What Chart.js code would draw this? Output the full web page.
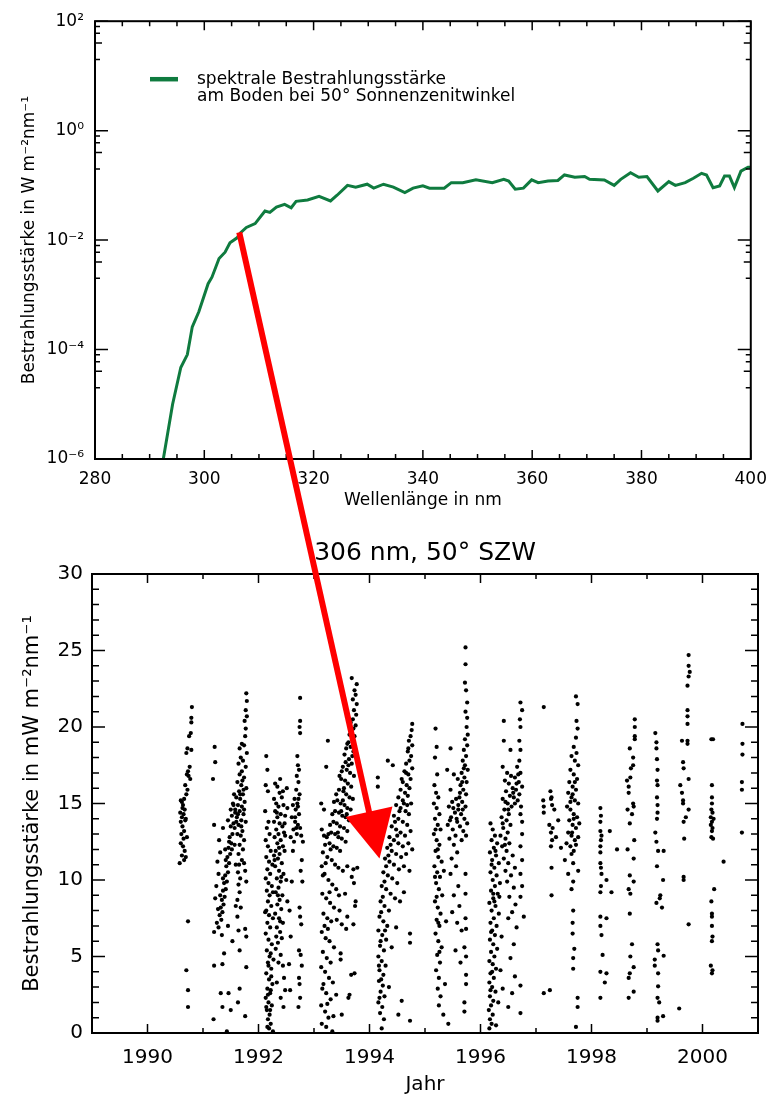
<!DOCTYPE html>
<html>
<head>
<meta charset="utf-8">
<script src="https://cdn.jsdelivr.net/npm/chart.js@4.4.1/dist/chart.umd.min.js"></script>
<style>
    html, body { margin: 0; padding: 0; background: #fff; overflow: hidden; }
    #wrap { position: relative; width: 777px; height: 1094px; }
    canvas { position: absolute; left: 0; }
    #chart-spectrum { top: 0; }
    #chart-series { top: 520px; }
    #arrow { top: 0; pointer-events: none; }
</style>
</head>
<body>
<div id="wrap">
    <canvas id="chart-spectrum" width="777" height="520"></canvas>
    <canvas id="chart-series" width="777" height="580"></canvas>
    <canvas id="arrow" width="777" height="1094"></canvas>
</div>
<script>
const FONT = "'DejaVu Sans', sans-serif";
const GREEN = "#0f7b3f";
const RED = "#ff0000";

// top panel: spectrum at 50 deg solar zenith angle
const wavelengths = [292.0, 292.5, 294.2, 295.7, 296.9, 297.8, 299.0, 300.7, 301.4, 302.7, 303.8, 304.7, 306.0, 306.6, 307.7, 309.3, 311.1, 312.0, 313.2, 314.7, 315.9, 316.8, 318.9, 321.0, 323.1, 324.3, 326.2, 327.7, 329.8, 331.0, 332.8, 334.6, 336.7, 338.2, 340.0, 341.2, 343.9, 345.2, 347.3, 349.7, 352.7, 354.8, 355.7, 356.9, 358.4, 359.9, 361.1, 362.9, 364.7, 365.9, 367.8, 369.6, 370.5, 373.2, 375.0, 376.2, 378.0, 379.5, 381.0, 383.0, 385.0, 386.2, 388.0, 389.5, 391.0, 391.9, 393.1, 394.3, 395.2, 396.1, 397.0, 398.2, 399.5, 400.0];
const irradiance = [5e-7, 1.0e-6, 1.0e-5, 4.7e-5, 8.1e-5, 2.6e-4, 4.9e-4, 1.6e-3, 2.1e-3, 4.6e-3, 6.0e-3, 8.9e-3, 1.1e-2, 1.35e-2, 1.7e-2, 2.0e-2, 3.4e-2, 3.2e-2, 4.0e-2, 4.5e-2, 3.9e-2, 5.1e-2, 5.4e-2, 6.3e-2, 5.2e-2, 6.6e-2, 0.100, 0.093, 0.105, 0.089, 0.105, 0.093, 0.074, 0.089, 0.098, 0.089, 0.089, 0.112, 0.112, 0.126, 0.112, 0.129, 0.120, 0.085, 0.089, 0.126, 0.112, 0.120, 0.123, 0.155, 0.141, 0.145, 0.129, 0.126, 0.100, 0.129, 0.170, 0.141, 0.145, 0.079, 0.117, 0.100, 0.112, 0.135, 0.166, 0.155, 0.091, 0.098, 0.148, 0.148, 0.091, 0.182, 0.214, 0.214];
const spectrumXTicks = [280, 300, 320, 340, 360, 380, 400];
const spectrumYTicks = [1e-6, 1e-4, 1e-2, 1, 1e2];
const spectrumYLabels = ["10⁻⁶", "10⁻⁴", "10⁻²", "10⁰", "10²"];
const legendLines = ["spektrale Bestrahlungsstärke", "am Boden bei 50° Sonnenzenitwinkel"];

// bottom panel: 306 nm irradiance, [year, mW m-2 nm-1]
const season1990 = [[1990.80,21.3],[1990.79,20.6],[1990.79,20.3],[1990.78,19.6],[1990.75,19.4],[1990.72,18.6],[1990.79,18.5],[1990.70,18.3],[1990.76,17.4],[1990.73,17.1],[1990.71,16.9],[1990.77,16.6],[1990.74,16.8],[1990.68,16.2],[1990.72,15.9],[1990.70,15.6],[1990.66,15.3],[1990.62,15.1],[1990.64,14.9],[1990.60,15.2],[1990.67,14.6],[1990.65,14.3],[1990.62,14.1],[1990.68,13.9],[1990.60,13.8],[1990.63,13.5],[1990.66,13.2],[1990.61,13.0],[1990.65,12.7],[1990.60,12.4],[1990.64,12.2],[1990.67,11.9],[1990.62,11.6],[1990.69,11.5],[1990.58,11.1],[1990.66,11.3],[1990.63,14.7],[1990.69,14.0],[1990.59,14.4],[1990.71,12.8],[1990.73,7.3],[1990.70,4.1],[1990.73,2.8],[1990.73,1.7]];
const season1991 = [[1991.78,22.2],[1991.79,21.7],[1991.77,21.1],[1991.79,20.7],[1991.75,20.4],[1991.77,19.9],[1991.76,19.4],[1991.70,18.9],[1991.66,18.6],[1991.74,18.8],[1991.79,18.3],[1991.68,18.0],[1991.72,17.8],[1991.64,17.6],[1991.77,17.4],[1991.70,17.1],[1991.66,16.9],[1991.74,16.7],[1991.62,16.4],[1991.69,16.2],[1991.78,16.0],[1991.65,15.8],[1991.72,15.6],[1991.60,15.4],[1991.67,15.3],[1991.75,15.1],[1991.63,14.9],[1991.70,14.8],[1991.58,14.6],[1991.66,14.5],[1991.73,14.3],[1991.61,14.1],[1991.69,13.9],[1991.77,13.8],[1991.64,13.6],[1991.57,13.4],[1991.71,13.2],[1991.62,13.0],[1991.68,12.9],[1991.74,12.6],[1991.66,12.3],[1991.72,12.0],[1991.64,11.7],[1991.70,11.3],
    [1991.65,11.0],[1991.63,10.5],[1991.67,10.1],[1991.64,9.7],[1991.66,9.2],[1991.62,8.7],[1991.68,8.2],[1991.76,10.6],[1991.78,9.9],[1991.74,11.1],
    [1991.56,15.6],[1991.54,15.0],[1991.58,14.4],[1991.52,14.2],[1991.55,13.7],[1991.50,13.5],[1991.53,13.0],[1991.48,12.8],[1991.51,12.4],[1991.46,12.1],[1991.49,11.7],[1991.44,11.5],[1991.47,11.1],[1991.42,10.9],[1991.45,10.5],[1991.40,10.3],[1991.43,9.9],[1991.38,9.8],[1991.41,9.4],[1991.36,9.3],[1991.39,8.9],[1991.34,8.7],[1991.37,8.4],[1991.32,8.2],[1991.35,7.9],[1991.30,7.7],[1991.33,7.4],[1991.28,10.4],[1991.26,11.2],[1991.24,9.6],[1991.22,8.8],[1991.31,11.8],[1991.29,12.6],[1991.36,13.4],[1991.40,12.0],[1991.45,13.9],[1991.50,14.6],[1991.57,12.3],[1991.59,11.0],
    [1991.71,16.5],[1991.67,15.6],[1991.74,14.6],[1991.63,14.3],[1991.69,13.5],[1991.55,14.9],[1991.47,12.5],[1991.41,11.3],[1991.36,10.1],[1991.31,9.0],[1991.27,8.1],[1991.60,13.8],[1991.73,15.9],[1991.52,12.0],
    [1991.21,18.7],[1991.22,17.7],[1991.18,16.6],[1991.20,13.6],[1991.25,7.2],[1991.28,6.9],[1991.34,6.4],[1991.20,6.6],[1991.38,5.2],[1991.20,4.4],[1991.35,4.5],[1991.32,2.6],[1991.46,2.6],[1991.35,1.7],[1991.50,1.5],[1991.19,0.9],[1991.43,0.1],[1991.66,5.4],[1991.64,6.7],[1991.76,6.8],[1991.78,6.3],[1991.59,8.3],[1991.62,7.6],[1991.66,2.9],[1991.63,2.0],[1991.76,1.1],[1991.78,4.3],[1991.53,6.0],[1991.45,7.0]];
const season1992 = [[1992.14,18.1],[1992.16,17.2],[1992.13,16.2],[1992.17,15.8],[1992.12,14.5],[1992.18,13.8],[1992.15,13.4],[1992.20,13.0],[1992.13,12.6],[1992.17,12.2],[1992.22,11.9],[1992.14,11.5],[1992.19,11.2],[1992.25,11.0],[1992.16,10.7],[1992.21,10.4],[1992.13,10.1],[1992.18,9.8],[1992.24,9.6],[1992.15,9.3],[1992.20,9.0],[1992.17,8.6],[1992.23,8.3],[1992.14,8.0],[1992.19,7.7],[1992.26,7.5],[1992.16,7.2],[1992.21,6.9],[1992.13,6.5],[1992.18,6.1],[1992.24,5.8],[1992.15,5.4],[1992.20,5.0],[1992.17,4.6],[1992.23,4.2],[1992.14,3.9],[1992.19,3.5],[1992.25,3.2],[1992.16,2.9],[1992.21,2.6],[1992.13,2.3],[1992.18,2.0],[1992.24,1.8],[1992.15,1.5],[1992.20,1.2],[1992.17,0.9],[1992.22,0.6],[1992.19,0.3],[1992.26,0.1],[1992.14,1.7],[1992.22,2.8],[1992.27,4.8],[1992.12,7.9],[1992.26,9.2],
    [1992.30,16.3],[1992.34,16.1],[1992.38,15.7],[1992.28,15.3],[1992.42,15.4],[1992.32,15.0],[1992.36,14.8],[1992.45,14.9],[1992.30,14.5],[1992.40,14.3],[1992.34,14.1],[1992.48,14.2],[1992.28,13.8],[1992.38,13.7],[1992.43,13.5],[1992.32,13.3],[1992.36,13.0],[1992.46,13.1],[1992.29,12.8],[1992.40,12.6],[1992.34,12.4],[1992.44,12.2],[1992.31,11.9],[1992.38,11.7],[1992.35,11.4],[1992.42,11.1],[1992.30,10.9],[1992.37,10.6],[1992.45,10.4],[1992.33,10.1],[1992.40,9.9],[1992.36,9.5],[1992.31,9.2],[1992.43,9.0],[1992.38,8.7],[1992.34,8.4],[1992.41,8.1],[1992.30,7.8],[1992.37,7.5],[1992.44,7.2],[1992.33,6.9],[1992.39,6.6],[1992.42,6.2],[1992.35,5.9],[1992.31,5.5],[1992.40,5.1],[1992.44,4.4],[1992.36,4.6],[1992.46,3.6],[1992.33,3.3],[1992.48,2.8],[1992.40,2.3],[1992.45,1.7],[1992.52,8.6],[1992.50,10.0],[1992.48,12.9],[1992.52,14.7],[1992.28,11.6],[1992.47,11.9],[1992.51,16.0],
    [1992.39,16.6],[1992.44,15.8],[1992.33,14.4],[1992.47,13.7],[1992.37,12.1],[1992.29,11.3],[1992.41,10.2],[1992.35,9.0],[1992.39,7.3],[1992.32,6.3],[1992.22,5.2],[1992.18,4.4],[1992.23,3.7],[1992.17,2.5],[1992.21,1.5],[1992.16,0.4],
    [1992.75,21.9],[1992.75,20.4],[1992.74,20.0],[1992.75,19.6],[1992.70,18.1],[1992.71,17.5],[1992.73,17.2],[1992.69,16.8],[1992.72,16.4],[1992.68,15.9],[1992.74,15.6],[1992.65,15.3],[1992.70,15.0],[1992.62,14.9],[1992.67,14.6],[1992.73,14.3],[1992.60,14.1],[1992.66,13.8],[1992.71,13.6],[1992.63,13.3],[1992.69,13.0],[1992.58,12.8],[1992.64,12.5],[1992.75,13.4],[1992.77,12.9],[1992.80,12.5],[1992.78,11.3],[1992.76,10.6],[1992.79,9.9],[1992.74,8.2],[1992.75,7.6],[1992.77,7.1],[1992.73,5.4],[1992.76,5.1],[1992.78,4.4],[1992.73,3.6],[1992.74,3.2],[1992.75,2.3],[1992.72,1.7],[1992.62,11.9],[1992.60,9.9],[1992.56,8.0],[1992.58,6.3],[1992.55,4.5],[1992.57,2.8],[1992.71,14.8],[1992.66,14.1],[1992.72,15.3],[1992.68,13.4]];
const season1993 = [[1993.68,23.2],[1993.77,22.8],[1993.73,22.4],[1993.75,22.1],[1993.70,21.8],[1993.77,21.5],[1993.72,21.1],[1993.76,20.8],[1993.70,20.5],[1993.75,20.1],[1993.68,19.7],[1993.73,19.4],[1993.25,19.1],[1993.22,17.4],[1993.62,19.0],[1993.66,18.7],[1993.58,18.6],[1993.71,18.4],[1993.55,18.2],[1993.63,17.9],[1993.68,17.6],[1993.52,17.4],[1993.59,17.2],[1993.65,17.0],[1993.72,16.8],[1993.49,16.6],[1993.56,16.5],[1993.61,16.3],[1993.67,16.1],[1993.45,15.9],[1993.53,15.8],[1993.58,15.6],[1993.64,15.4],[1993.70,15.3],[1993.42,15.2],[1993.48,15.0],[1993.55,14.9],[1993.60,14.7],[1993.66,14.6],[1993.38,14.5],[1993.45,14.4],[1993.51,14.2],[1993.57,14.1],[1993.63,13.9],[1993.35,13.8],[1993.41,13.7],[1993.47,13.5],[1993.54,13.4],[1993.60,13.2],[1993.31,13.1],[1993.38,13.0],[1993.44,12.8],[1993.50,12.7],[1993.57,12.5],[1993.28,12.4],[1993.35,12.2],[1993.41,12.1],[1993.47,11.9],[1993.20,12.3],[1993.16,11.8],[1993.14,13.3],[1993.18,14.6],[1993.13,15.0],[1993.24,11.5],[1993.32,11.3],[1993.38,11.0],[1993.44,10.8],[1993.52,10.6],[1993.60,10.9],[1993.68,10.2],
    [1993.66,20.3],[1993.71,19.9],[1993.64,19.5],[1993.60,18.9],[1993.69,18.1],[1993.57,17.7],[1993.62,17.5],[1993.50,17.1],[1993.46,16.8],[1993.54,16.0],[1993.40,15.6],[1993.36,15.1],[1993.33,14.3],[1993.29,13.6],[1993.26,13.0],[1993.23,12.8],[1993.30,12.0],[1993.18,12.9],[1993.21,11.1],[1993.16,10.3],[1993.28,9.2],[1993.19,7.0],[1993.25,6.8],[1993.17,3.2],[1993.24,1.9],[1993.45,9.0],[1993.52,15.2],[1993.59,14.3],[1993.43,13.1],[1993.49,14.5],
    [1993.14,10.9],[1993.19,10.4],[1993.26,10.0],[1993.33,9.7],[1993.40,9.4],[1993.15,9.1],[1993.22,8.8],[1993.29,8.5],[1993.36,8.2],[1993.46,8.0],[1993.17,7.8],[1993.24,7.5],[1993.31,7.3],[1993.41,7.4],[1993.50,7.1],[1993.58,6.8],[1993.14,6.6],[1993.21,6.2],[1993.28,6.0],[1993.36,5.6],[1993.16,5.3],[1993.23,4.9],[1993.30,4.6],[1993.13,4.3],[1993.20,4.0],[1993.27,3.6],[1993.34,3.3],[1993.15,2.9],[1993.22,2.6],[1993.30,2.2],[1993.40,2.5],[1993.13,1.8],[1993.20,1.4],[1993.26,1.0],[1993.14,0.6],[1993.22,0.4],[1993.33,0.1],[1993.48,5.2],[1993.67,3.8],[1993.72,9.8],[1993.75,8.6],[1993.78,10.8],[1993.56,9.1],[1993.48,4.8],[1993.62,2.3],[1993.71,10.7],[1993.74,8.3],[1993.60,7.6],[1993.71,7.1],[1993.73,3.9],[1993.64,2.5],[1993.50,1.2],[1993.35,1.1]];
const season1994 = [[1994.77,20.2],[1994.76,19.8],[1994.74,19.4],[1994.71,19.1],[1994.77,18.8],[1994.69,18.4],[1994.75,18.1],[1994.72,17.8],[1994.66,17.6],[1994.77,17.3],[1994.63,17.1],[1994.70,16.9],[1994.74,16.6],[1994.60,16.4],[1994.67,16.2],[1994.72,16.0],[1994.33,17.8],[1994.42,17.5],[1994.15,16.7],[1994.15,16.1],[1994.56,15.9],[1994.64,15.7],[1994.69,15.5],[1994.52,15.4],[1994.60,15.2],[1994.75,15.0],[1994.48,14.9],[1994.56,14.7],[1994.65,14.5],[1994.71,14.3],[1994.44,14.2],[1994.52,14.0],[1994.60,13.8],[1994.68,13.6],[1994.40,13.5],[1994.48,13.3],[1994.56,13.1],[1994.64,12.9],[1994.36,12.8],[1994.44,12.6],[1994.52,12.4],[1994.60,12.2],[1994.70,12.4],[1994.32,12.1],[1994.40,11.9],[1994.48,11.7],[1994.57,11.5],[1994.66,11.7],[1994.28,11.4],[1994.36,11.2],[1994.44,11.0],[1994.53,10.7],[1994.62,10.9],[1994.25,10.5],[1994.33,10.3],[1994.41,10.1],[1994.50,9.8],[1994.72,10.6],[1994.77,12.0],
    [1994.70,18.6],[1994.66,17.0],[1994.58,16.6],[1994.62,15.0],[1994.54,14.5],[1994.46,13.8],[1994.50,12.9],[1994.38,12.3],[1994.34,11.6],[1994.30,10.9],[1994.27,9.9],[1994.24,8.9],[1994.21,7.9],[1994.28,6.7],[1994.20,6.0],[1994.17,4.4],[1994.21,3.5],[1994.18,2.3],[1994.68,14.9],[1994.74,13.2],
    [1994.22,9.6],[1994.30,9.4],[1994.38,9.1],[1994.46,8.8],[1994.20,8.6],[1994.27,8.3],[1994.35,8.0],[1994.18,7.6],[1994.25,7.3],[1994.32,7.0],[1994.16,6.7],[1994.23,6.4],[1994.30,6.1],[1994.19,5.7],[1994.26,5.4],[1994.16,5.0],[1994.22,4.7],[1994.29,4.4],[1994.18,4.1],[1994.25,3.8],[1994.17,3.4],[1994.24,3.1],[1994.20,2.7],[1994.27,2.4],[1994.16,2.0],[1994.23,1.7],[1994.19,1.3],[1994.26,0.9],[1994.22,0.3],[1994.73,6.5],[1994.73,5.9],[1994.58,2.1],[1994.52,1.2],[1994.73,0.8],[1994.55,8.6],[1994.48,6.9],[1994.62,9.2],[1994.40,5.6],[1994.35,3.0]];
const season1995 = [[1995.73,25.2],[1995.73,24.1],[1995.72,22.9],[1995.74,22.4],[1995.76,21.6],[1995.73,21.0],[1995.76,20.6],[1995.75,20.0],[1995.77,19.5],[1995.72,19.2],[1995.76,18.8],[1995.70,18.5],[1995.74,18.1],[1995.68,17.8],[1995.72,17.5],[1995.77,17.2],[1995.66,17.0],[1995.71,16.7],[1995.75,16.4],[1995.64,16.2],[1995.69,15.9],[1995.74,15.6],[1995.62,15.4],[1995.67,15.1],[1995.73,14.8],[1995.60,14.6],[1995.65,14.3],[1995.71,14.0],[1995.76,13.7],[1995.63,13.5],[1995.69,13.2],[1995.74,12.9],[1995.66,12.6],
    [1995.70,17.3],[1995.67,16.4],[1995.63,15.7],[1995.60,14.9],[1995.51,14.7],[1995.45,13.9],[1995.19,13.3],[1995.23,12.0],[1995.18,10.2],[1995.21,8.9],[1995.24,7.2],[1995.26,5.3],[1995.57,14.0],[1995.68,14.6],
    [1995.46,18.6],[1995.40,17.2],[1995.59,16.6],[1995.46,15.9],[1995.52,16.9],[1995.56,15.3],[1995.49,15.1],[1995.43,14.8],[1995.54,14.4],[1995.47,14.1],[1995.58,13.8],[1995.41,13.6],[1995.50,13.3],[1995.55,12.9],[1995.44,12.7],[1995.52,12.3],[1995.58,11.8],[1995.48,11.4],[1995.56,10.9],[1995.46,10.4],[1995.60,9.6],[1995.52,9.0],[1995.62,8.3],[1995.49,7.9],[1995.58,7.2],[1995.66,6.7],[1995.55,5.4],[1995.64,4.6],
    [1995.19,19.9],[1995.21,18.7],[1995.18,18.0],[1995.22,16.9],[1995.17,16.2],[1995.20,15.7],[1995.24,15.4],[1995.16,15.0],[1995.21,14.7],[1995.26,14.3],[1995.18,14.0],[1995.23,13.6],[1995.28,13.3],[1995.16,13.0],[1995.21,12.6],[1995.26,12.3],[1995.19,11.9],[1995.24,11.5],[1995.30,11.2],[1995.17,10.9],[1995.22,10.5],[1995.27,10.2],[1995.20,9.8],[1995.25,9.4],[1995.31,9.0],[1995.18,8.6],[1995.23,8.2],[1995.28,7.8],[1995.21,7.4],[1995.26,7.0],[1995.19,6.5],[1995.24,6.0],[1995.30,5.6],[1995.22,5.1],[1995.27,4.6],[1995.20,4.1],[1995.25,3.6],[1995.23,2.9],[1995.28,2.4],[1995.25,1.8],[1995.42,0.6],[1995.33,1.2],[1995.36,3.2],[1995.38,7.3],[1995.34,10.6],
    [1995.73,10.4],[1995.73,9.1],[1995.73,7.5],[1995.74,6.8],[1995.71,5.6],[1995.74,5.0],[1995.74,3.8],[1995.74,3.2],[1995.71,2.0],[1995.71,1.4]];
const season1996 = [[1996.72,21.6],[1996.75,21.1],[1996.71,20.5],[1996.72,20.0],[1996.70,19.1],[1996.72,18.5],[1996.70,17.8],[1996.66,17.4],[1996.72,17.0],[1996.62,16.7],[1996.69,16.4],[1996.75,16.1],[1996.64,15.9],[1996.70,15.6],[1996.60,15.4],[1996.67,15.2],[1996.73,14.8],[1996.72,14.3],[1996.75,13.8],[1996.75,13.0],[1996.72,12.2],[1996.75,11.3],[1996.72,10.4],[1996.75,9.6],[1996.72,8.9],[1996.78,7.6],[1996.72,3.1],[1996.72,1.3],
    [1996.68,16.9],[1996.65,16.3],[1996.59,15.7],[1996.62,15.0],[1996.45,15.1],[1996.50,14.6],[1996.40,13.7],[1996.44,12.3],[1996.20,11.0],[1996.23,9.1],[1996.19,6.6],[1996.21,4.0],[1996.18,2.8],[1996.25,8.6],[1996.27,11.9],
    [1996.42,20.4],[1996.42,19.1],[1996.54,18.5],[1996.40,17.4],[1996.48,17.0],[1996.55,16.8],[1996.44,16.5],[1996.51,16.3],[1996.58,16.0],[1996.46,15.8],[1996.53,15.5],[1996.40,15.3],[1996.49,15.0],[1996.56,14.8],[1996.43,14.6],[1996.51,14.3],[1996.38,14.1],[1996.47,13.9],[1996.54,13.6],[1996.41,13.4],[1996.49,13.1],[1996.36,12.9],[1996.45,12.7],[1996.52,12.4],[1996.39,12.2],[1996.47,11.9],[1996.58,11.6],[1996.42,11.4],[1996.50,11.1],[1996.62,10.8],[1996.45,10.6],[1996.55,10.3],[1996.48,9.9],[1996.60,9.5],[1996.52,8.9],[1996.63,8.4],[1996.57,7.9],[1996.50,7.5],[1996.65,6.9],[1996.60,5.8],[1996.54,4.9],[1996.62,3.7],[1996.57,2.6],[1996.50,1.7],
    [1996.18,13.7],[1996.22,13.3],[1996.26,12.9],[1996.20,12.6],[1996.30,12.4],[1996.24,12.1],[1996.17,11.8],[1996.28,11.6],[1996.21,11.3],[1996.33,11.1],[1996.25,10.8],[1996.18,10.5],[1996.29,10.3],[1996.22,10.0],[1996.35,9.8],[1996.26,9.6],[1996.19,9.3],[1996.31,9.1],[1996.23,8.8],[1996.16,8.5],[1996.27,8.3],[1996.20,8.0],[1996.33,7.8],[1996.24,7.5],[1996.18,7.2],[1996.29,7.0],[1996.21,6.7],[1996.26,6.4],[1996.17,6.1],[1996.23,5.8],[1996.30,5.5],[1996.19,5.3],[1996.25,5.0],[1996.16,4.7],[1996.22,4.5],[1996.28,4.2],[1996.18,3.9],[1996.24,3.6],[1996.16,3.3],[1996.21,3.0],[1996.27,2.7],[1996.17,2.4],[1996.23,2.1],[1996.19,1.8],[1996.15,1.5],[1996.22,1.2],[1996.17,0.9],[1996.20,0.6],[1996.16,0.3],[1996.28,0.5],[1996.36,4.1],[1996.40,2.9],[1996.38,6.3],[1996.34,8.9],[1996.32,2.0]];
const season1997 = [[1997.14,21.3],[1997.13,15.2],[1997.14,14.8],[1997.14,14.4],[1997.28,10.8],[1997.28,9.0],[1997.14,2.6],[1997.25,2.8],[1997.26,15.8],[1997.27,15.3],[1997.29,14.9],[1997.24,13.6],[1997.27,13.1],[1997.29,12.6],[1997.27,12.2],
    [1997.72,22.0],[1997.75,21.5],[1997.73,20.4],[1997.75,19.9],[1997.72,19.3],[1997.68,18.7],[1997.73,18.3],[1997.64,18.1],[1997.70,17.8],[1997.76,17.5],[1997.62,17.2],[1997.68,16.9],[1997.74,16.6],[1997.60,16.4],[1997.66,16.1],[1997.72,15.9],[1997.58,15.7],[1997.64,15.4],[1997.70,15.2],[1997.76,15.0],[1997.56,14.8],[1997.62,14.6],[1997.68,14.3],[1997.74,14.1],[1997.60,13.9],[1997.66,13.6],[1997.72,13.4],[1997.58,13.1],[1997.64,12.9],[1997.70,12.6],[1997.76,12.8],[1997.62,12.2],[1997.68,11.9],[1997.28,15.4],[1997.33,14.6],[1997.30,13.4],[1997.36,12.8],[1997.40,13.9],[1997.45,12.1],[1997.55,12.4],[1997.64,11.7],[1997.67,11.1],[1997.76,10.6],[1997.67,9.9],[1997.64,9.4],[1997.67,8.0],[1997.66,7.2],[1997.66,6.5],[1997.69,5.5],[1997.67,4.9],[1997.67,4.2],[1997.75,2.3],[1997.75,1.7],[1997.72,0.4],[1997.58,10.4],[1997.52,11.3],[1997.78,13.7],
    [1997.70,16.4],[1997.66,15.6],[1997.62,15.1],[1997.68,14.0],[1997.65,13.1],[1997.72,12.3]];
const season1998a = [[1998.16,14.7],[1998.16,13.8],[1998.33,13.2],[1998.16,13.2],[1998.17,12.6],[1998.16,12.2],[1998.16,11.8],[1998.46,12.0],[1998.16,11.1],[1998.18,10.4],[1998.27,10.0],[1998.36,9.2],[1998.16,9.2],[1998.16,7.6],[1998.27,7.5],[1998.16,7.0],[1998.18,6.4],[1998.20,5.1],[1998.16,4.0],[1998.27,3.9],[1998.24,3.3],[1998.16,2.3],[1998.17,14.2],[1998.18,12.9],[1998.17,10.8],[1998.17,9.6]];
const season1998b = [[1998.78,20.5],[1998.78,20.0],[1998.78,19.4],[1998.78,19.2],[1998.69,18.6],[1998.75,18.0],[1998.75,17.5],[1998.71,17.3],[1998.70,16.7],[1998.64,16.5],[1998.67,16.1],[1998.67,15.7],[1998.75,15.0],[1998.76,14.8],[1998.65,14.6],[1998.73,14.3],[1998.69,13.7],[1998.77,12.6],[1998.65,12.0],[1998.76,11.4],[1998.69,10.3],[1998.76,9.9],[1998.67,9.4],[1998.70,9.1],[1998.69,7.8],[1998.73,5.8],[1998.70,5.0],[1998.76,4.3],[1998.69,3.9],[1998.67,3.6],[1998.76,2.7],[1998.67,2.3]];
const season1999a = [[1999.15,19.6],[1999.17,19.0],[1999.17,18.6],[1999.18,17.9],[1999.19,17.2],[1999.18,16.5],[1999.19,16.2],[1999.18,15.4],[1999.19,14.9],[1999.19,14.4],[1999.18,14.0],[1999.15,13.1],[1999.17,12.5],[1999.20,11.9],[1999.30,11.9],[1999.18,10.9],[1999.29,10.0],[1999.24,9.0],[1999.23,8.8],[1999.17,8.5],[1999.27,8.2],[1999.19,5.8],[1999.20,5.4],[1999.30,5.05],[1999.14,4.8],[1999.14,4.4],[1999.20,3.9],[1999.20,3.05],[1999.19,2.3],[1999.22,2.0],[1999.19,1.0],[1999.29,1.1],[1999.19,0.8]];
const season1999b = [[1999.75,24.7],[1999.75,24.0],[1999.77,23.6],[1999.75,23.3],[1999.73,22.7],[1999.73,21.1],[1999.73,20.7],[1999.73,20.2],[1999.63,19.1],[1999.73,19.1],[1999.73,18.9],[1999.65,17.7],[1999.66,17.3],[1999.75,16.6],[1999.60,16.2],[1999.63,15.7],[1999.65,15.2],[1999.65,15.0],[1999.75,14.6],[1999.70,14.1],[1999.66,13.8],[1999.67,12.7],[1999.66,10.2],[1999.66,10.0],[1999.75,7.1],[1999.58,1.6]];
const season2000a = [[2000.16,19.2],[2000.19,19.2],[2000.17,16.2],[2000.17,15.4],[2000.17,15.0],[2000.16,14.6],[2000.18,14.4],[2000.15,14.1],[2000.20,14.0],[2000.17,13.8],[2000.15,13.6],[2000.18,13.4],[2000.17,13.2],[2000.16,12.8],[2000.19,12.7],[2000.38,11.2],[2000.21,9.4],[2000.16,8.6],[2000.17,7.8],[2000.17,7.6],[2000.17,7.0],[2000.18,6.3],[2000.17,6.0],[2000.15,4.4],[2000.18,4.1],[2000.17,3.9]];
const season2000b = [[2000.72,20.2],[2000.72,18.9],[2000.72,18.2],[2000.71,16.4],[2000.71,15.9],[2000.71,13.1]];
const yearTicks = [1990, 1992, 1994, 1996, 1998, 2000];
const seriesYTicks = [0, 5, 10, 15, 20, 25, 30];

// arrow: from the 306 nm point of the spectrum down into the time series
const arrowFrom = [306.4, 0.0138];
const arrowTo = [1994.18, 11.4];

Chart.defaults.font.family = FONT;
Chart.defaults.color = "#000";

// inward tick marks on all four sides plus the frame
function frameTicks(xMarks, yMarks) {
    return {
        id: "frameTicks",
        afterDraw(chart) {
            const { ctx, chartArea: a, scales } = chart;
            ctx.save();
            ctx.strokeStyle = "#000";
            ctx.lineWidth = 1.5;
            ctx.beginPath();
            xMarks.forEach(([v, len]) => {
                const px = scales.x.getPixelForValue(v);
                ctx.moveTo(px, a.bottom);
                ctx.lineTo(px, a.bottom - len);
                ctx.moveTo(px, a.top);
                ctx.lineTo(px, a.top + len);
            });
            yMarks.forEach(([v, len]) => {
                const py = scales.y.getPixelForValue(v);
                ctx.moveTo(a.left, py);
                ctx.lineTo(a.left + len, py);
                ctx.moveTo(a.right, py);
                ctx.lineTo(a.right - len, py);
            });
            ctx.stroke();
            ctx.lineWidth = 2;
            ctx.strokeRect(a.left, a.top, a.right - a.left, a.bottom - a.top);
            ctx.restore();
        },
    };
}

const spectrumXMarks = [];
for (let v = 280; v <= 400; v += 5) spectrumXMarks.push([v, v % 20 === 0 ? 9 : 5]);
const spectrumYMarks = spectrumYTicks.map((v) => [v, 13]);
[1e-5, 1e-3, 1e-1, 1e1].forEach((d) => {
    [2, 4, 6, 8].forEach((m) => spectrumYMarks.push([m * d, m === 4 ? 7 : 5]));
});

const seriesXMarks = [];
for (let y = 1989; y <= 2001; y++) seriesXMarks.push([y, y % 2 === 0 ? 9 : 5]);
const seriesYMarks = [];
for (let v = 0; v <= 30; v++) seriesYMarks.push([v, v % 5 === 0 ? 13 : 7]);

const spectrumLegend = {
    id: "spectrumLegend",
    afterDraw(chart) {
        const { ctx, chartArea: a } = chart;
        const x0 = a.left + 55;
        const y0 = a.top + 58;
        ctx.save();
        ctx.strokeStyle = GREEN;
        ctx.lineWidth = 4.5;
        ctx.beginPath();
        ctx.moveTo(x0, y0);
        ctx.lineTo(x0 + 28, y0);
        ctx.stroke();
        ctx.fillStyle = "#000";
        ctx.font = `17px ${FONT}`;
        ctx.textBaseline = "middle";
        legendLines.forEach((t, i) => ctx.fillText(t, x0 + 47, y0 + i * 17));
        ctx.restore();
    },
};

const spectrumChart = new Chart(document.getElementById("chart-spectrum"), {
    type: "line",
    data: {
        datasets: [
            {
                data: wavelengths.map((w, i) => ({ x: w, y: irradiance[i] })),
                borderColor: GREEN,
                borderWidth: 3,
                pointRadius: 0,
                tension: 0,
            },
        ],
    },
    options: {
        responsive: false,
        animation: false,
        layout: { padding: { top: 16, right: 19, left: 0, bottom: 0 } },
        plugins: { legend: { display: false }, tooltip: { enabled: false } },
        scales: {
            x: {
                type: "linear",
                min: 280,
                max: 400,
                afterFit(s) { s.height = 61; },
                afterBuildTicks(s) { s.ticks = spectrumXTicks.map((v) => ({ value: v })); },
                ticks: { font: { size: 17 }, padding: 10, maxRotation: 0, autoSkip: false, callback: (v) => String(v) },
                grid: { display: false, drawTicks: false },
                border: { display: false },
                title: { display: true, text: "Wellenlänge in nm", font: { size: 17 }, padding: { top: 0, bottom: 9 } },
            },
            y: {
                type: "logarithmic",
                min: 1e-6,
                max: 1e2,
                afterFit(s) { s.width = 95; },
                afterBuildTicks(s) { s.ticks = spectrumYTicks.map((v) => ({ value: v })); },
                ticks: { font: { size: 17 }, padding: 11, autoSkip: false, callback: (v, i) => spectrumYLabels[i] },
                grid: { display: false, drawTicks: false },
                border: { display: false },
                title: { display: true, text: "Bestrahlungsstärke in W m⁻²nm⁻¹", font: { size: 17 }, padding: { top: 19, bottom: 0 } },
            },
        },
    },
    plugins: [frameTicks(spectrumXMarks, spectrumYMarks), spectrumLegend],
});

const seriesPoints = [
    ...season1990, ...season1991, ...season1992, ...season1993, ...season1994,
    ...season1995, ...season1996, ...season1997, ...season1998a, ...season1998b,
    ...season1999a, ...season1999b, ...season2000a, ...season2000b,
];

const seriesChart = new Chart(document.getElementById("chart-series"), {
    type: "scatter",
    data: {
        datasets: [
            {
                data: seriesPoints.map(([x, y]) => ({ x, y })),
                backgroundColor: "#000",
                borderWidth: 0,
                pointRadius: 2.1,
            },
        ],
    },
    options: {
        responsive: false,
        animation: false,
        layout: { padding: { top: 0, right: 19, left: 0, bottom: 0 } },
        plugins: {
            legend: { display: false },
            tooltip: { enabled: false },
            title: {
                display: true,
                text: "306 nm, 50° SZW",
                fullSize: false,
                font: { size: 25, weight: "normal" },
                color: "#000",
                padding: { top: 18, bottom: 6 },
            },
        },
        scales: {
            x: {
                type: "linear",
                min: 1989,
                max: 2001,
                afterFit(s) { s.height = 67; },
                afterBuildTicks(s) { s.ticks = yearTicks.map((v) => ({ value: v })); },
                ticks: { font: { size: 20 }, padding: 13, maxRotation: 0, autoSkip: false, callback: (v) => String(v) },
                grid: { display: false, drawTicks: false },
                border: { display: false },
                title: { display: true, text: "Jahr", font: { size: 20 }, padding: { top: 0, bottom: 3 } },
            },
            y: {
                type: "linear",
                min: 0,
                max: 30,
                afterFit(s) { s.width = 92; },
                afterBuildTicks(s) { s.ticks = seriesYTicks.map((v) => ({ value: v })); },
                ticks: { font: { size: 20 }, padding: 9, autoSkip: false, callback: (v) => String(v) },
                grid: { display: false, drawTicks: false },
                border: { display: false },
                title: { display: true, text: "Bestrahlungsstärke in mW m⁻²nm⁻¹", font: { size: 21 }, padding: { top: 20, bottom: 0 } },
            },
        },
    },
    plugins: [frameTicks(seriesXMarks, seriesYMarks)],
});

// red arrow across both panels, placed through both charts' scales
function drawArrow() {
    const ctx = document.getElementById("arrow").getContext("2d");
    const top = spectrumChart.scales;
    const bot = seriesChart.scales;
    const offset = seriesChart.canvas.offsetTop;
    const x1 = top.x.getPixelForValue(arrowFrom[0]);
    const y1 = top.y.getPixelForValue(arrowFrom[1]);
    const x2 = bot.x.getPixelForValue(arrowTo[0]);
    const y2 = bot.y.getPixelForValue(arrowTo[1]) + offset;
    const len = Math.hypot(x2 - x1, y2 - y1);
    const ux = (x2 - x1) / len;
    const uy = (y2 - y1) / len;
    const head = 48;
    const half = 24;
    const bx = x2 - ux * head;
    const by = y2 - uy * head;

    ctx.strokeStyle = RED;
    ctx.lineWidth = 6;
    ctx.beginPath();
    ctx.moveTo(x1, y1);
    ctx.lineTo(bx + ux * 2, by + uy * 2);
    ctx.stroke();

    ctx.fillStyle = RED;
    ctx.beginPath();
    ctx.moveTo(x2, y2);
    ctx.lineTo(bx - uy * half, by + ux * half);
    ctx.lineTo(bx + uy * half, by - ux * half);
    ctx.closePath();
    ctx.fill();
}

drawArrow();
</script>
</body>
</html>
